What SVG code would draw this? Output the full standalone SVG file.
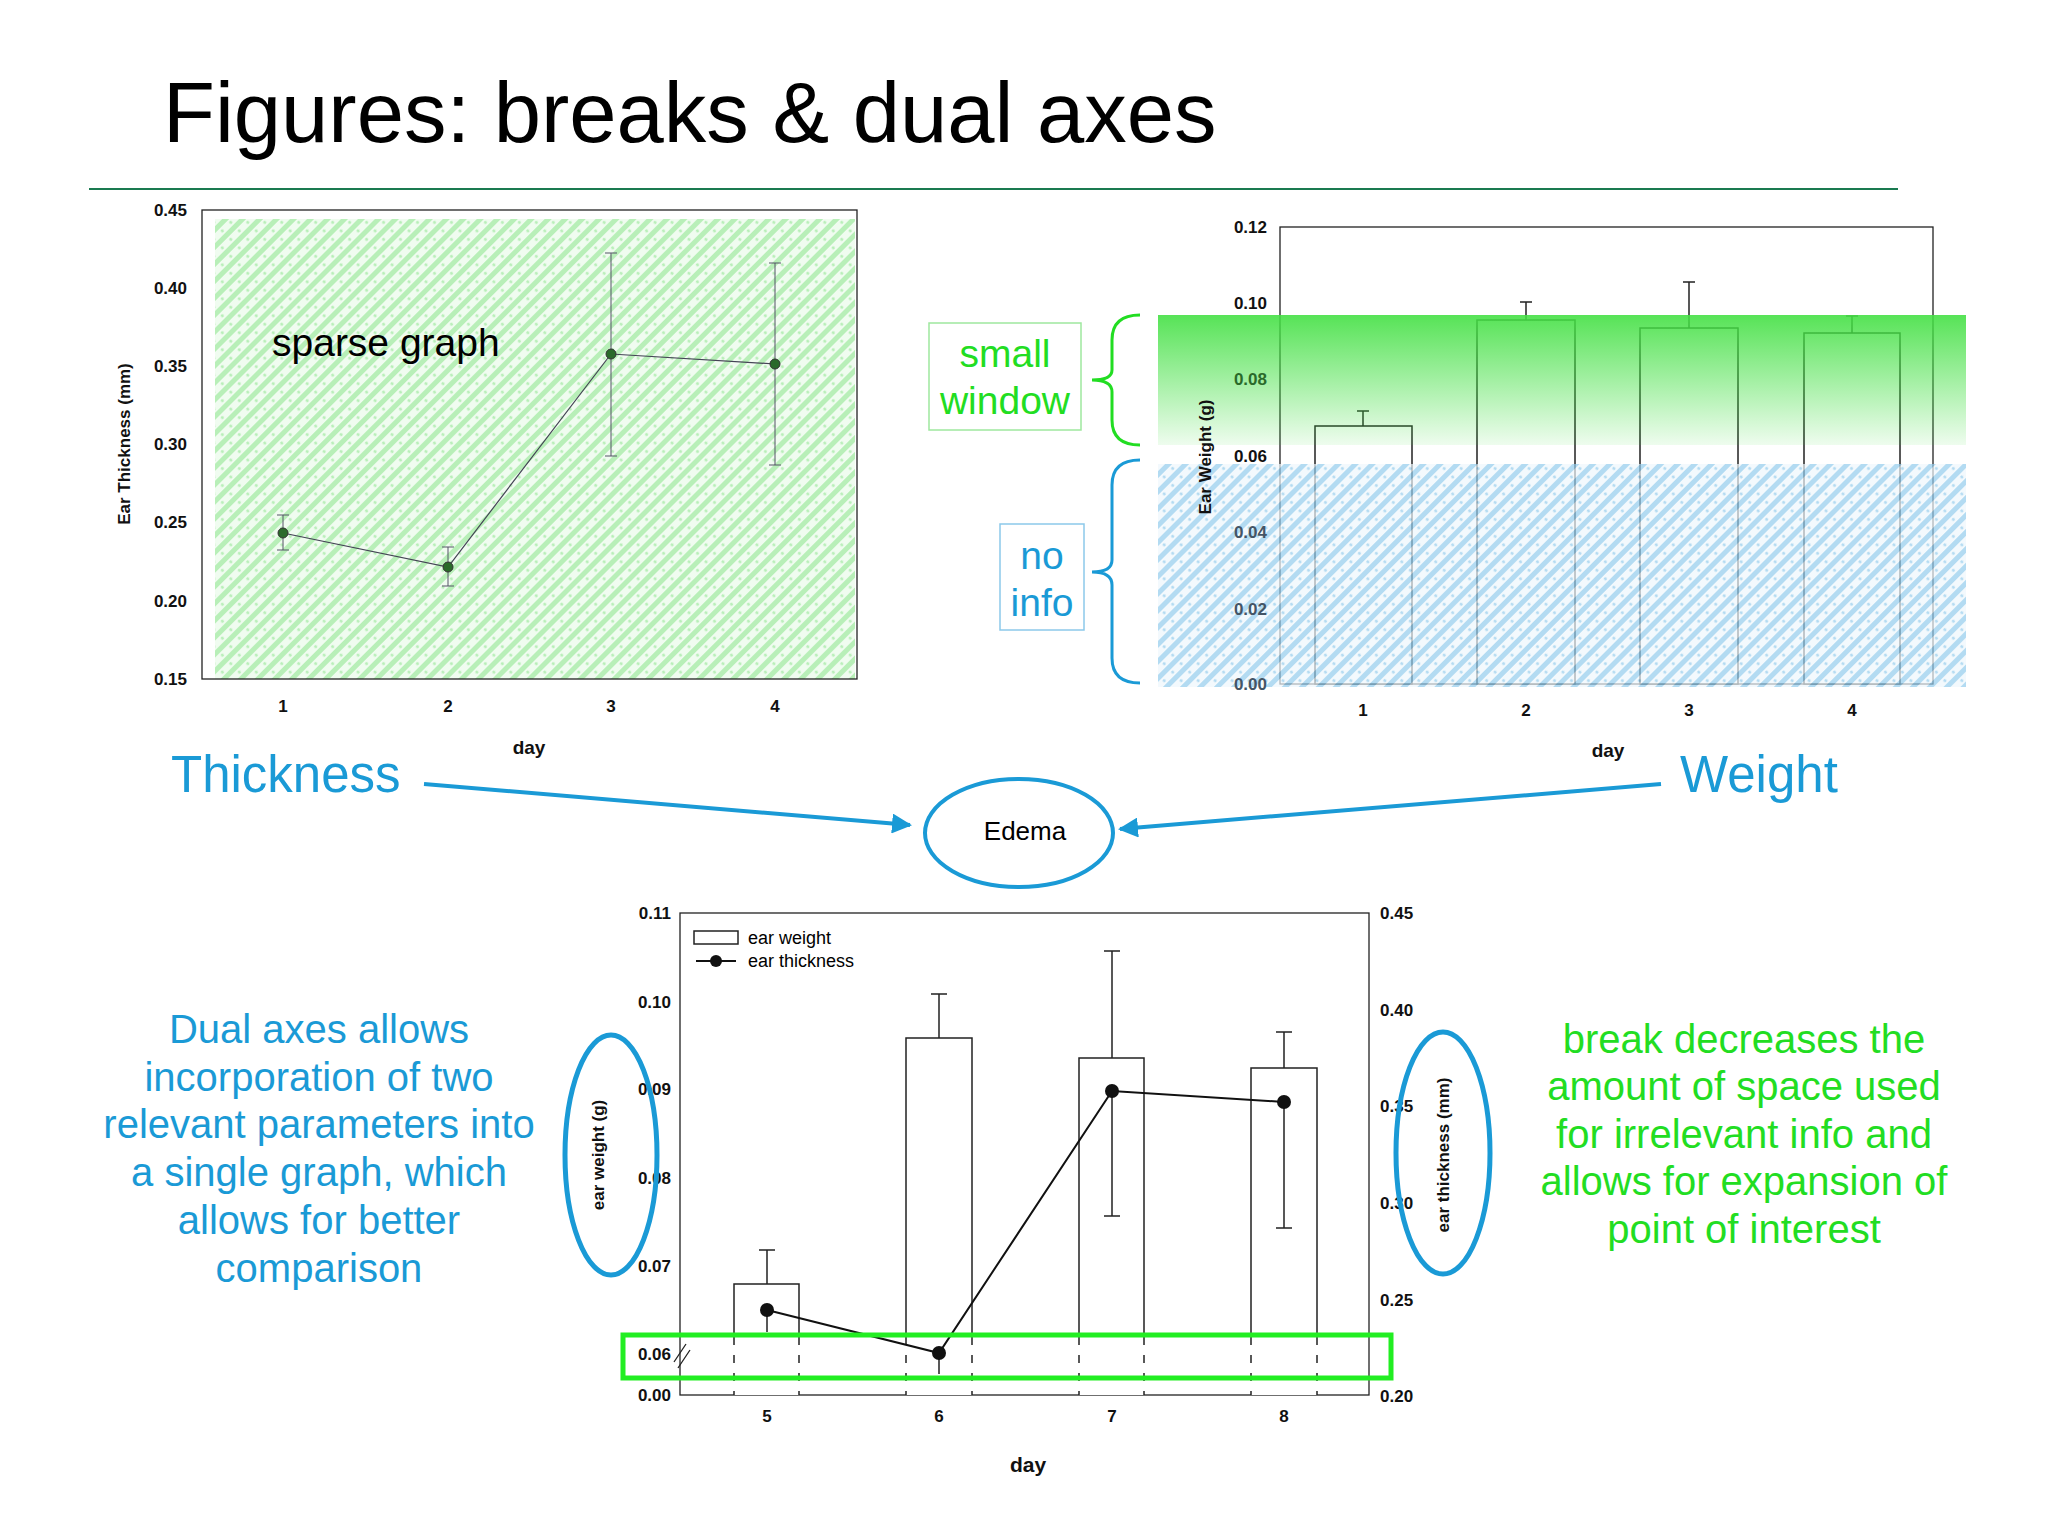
<svg xmlns="http://www.w3.org/2000/svg" width="2048" height="1536" viewBox="0 0 2048 1536">
<style>
text{font-family:"Liberation Sans",Arial,sans-serif}
.t{font-size:17px;font-weight:bold;fill:#111}
.ax{fill:none;stroke:#222;stroke-width:1.3}
.bar{fill:#fff;stroke:#222;stroke-width:1.5}
.blue{fill:#1a9ad6}
.grn{fill:#22dd22}
.eb{stroke:#222;stroke-width:1.5;fill:none}
</style>
<defs>
<pattern id="hg" width="12" height="12" patternUnits="userSpaceOnUse" patternTransform="rotate(45)">
<rect width="12" height="12" fill="#f0fcf0"/><rect width="5" height="12" fill="#b8efb8"/><circle cx="8.5" cy="6" r="1.6" fill="#b8efb8"/></pattern>
<pattern id="hb" width="12" height="12" patternUnits="userSpaceOnUse" patternTransform="rotate(45)">
<rect width="12" height="12" fill="#eef7fc"/><rect width="5" height="12" fill="#92cbec"/><circle cx="8.5" cy="6" r="1.6" fill="#92cbec"/></pattern>
<linearGradient id="gg" x1="0" y1="0" x2="0" y2="1"><stop offset="0" stop-color="#44e044"/><stop offset="1" stop-color="#44e044" stop-opacity="0.1"/></linearGradient>
<marker id="ar" viewBox="0 0 10 10" refX="9" refY="5" markerWidth="5" markerHeight="5" orient="auto"><path d="M0,0L10,5L0,10z" fill="#1a9ad6"/></marker>
</defs>
<rect width="2048" height="1536" fill="#fff"/>
<text x="163" y="142" font-size="85" fill="#000">Figures: breaks &amp; dual axes</text>
<line x1="89" y1="189" x2="1898" y2="189" stroke="#1a7a50" stroke-width="2"/>

<g id="chart1">
<rect x="215" y="219" width="640" height="460" fill="url(#hg)"/>
<rect x="202" y="210" width="655" height="469" class="ax"/>
<g class="t" text-anchor="end">
<text x="187" y="216">0.45</text><text x="187" y="294">0.40</text><text x="187" y="372">0.35</text><text x="187" y="450">0.30</text><text x="187" y="528">0.25</text><text x="187" y="607">0.20</text><text x="187" y="685">0.15</text></g>
<g class="t" text-anchor="middle"><text x="283" y="712">1</text><text x="448" y="712">2</text><text x="611" y="712">3</text><text x="775" y="712">4</text><text x="529" y="754" font-size="19">day</text></g>
<text class="t" font-size="20" transform="translate(130,444) rotate(-90)" text-anchor="middle">Ear Thickness (mm)</text>
<g stroke="#556" stroke-width="1"><path d="M283,515V550M277,515H289M277,550H289M448,547V586M442,547H454M442,586H454M611,253V456M605,253H617M605,456H617M775,263V465M769,263H781M769,465H781"/></g>
<polyline points="283,533 448,567 611,354 775,364" fill="none" stroke="#445" stroke-width="1.2"/>
<g fill="#2a6a2a" stroke="#333"><circle cx="283" cy="533" r="5"/><circle cx="448" cy="567" r="5"/><circle cx="611" cy="354" r="5"/><circle cx="775" cy="364" r="5"/></g>
<text x="272" y="356" font-size="39" fill="#000">sparse graph</text>
</g>

<g id="chart2">
<rect x="1280" y="227" width="653" height="457" class="ax"/>
<rect x="1315" y="426" width="97" height="258" class="bar"/><rect x="1477" y="320" width="98" height="364" class="bar"/><rect x="1640" y="328" width="98" height="356" class="bar"/><rect x="1804" y="333" width="96" height="351" class="bar"/>
<path class="eb" d="M1363,426V411M1357,411H1369M1526,320V302M1520,302H1532M1689,328V282M1683,282H1695M1852,333V316M1846,316H1858"/>
<rect x="1158" y="315" width="808" height="130" fill="url(#gg)" opacity="0.9"/>
<rect x="1158" y="464" width="808" height="223" fill="url(#hb)" opacity="0.7"/>
<g class="t" text-anchor="end"><text x="1267" y="233">0.12</text><text x="1267" y="309">0.10</text><text x="1267" y="385" fill="#2a6a2a">0.08</text><text x="1267" y="462">0.06</text><text x="1267" y="538" fill="#456">0.04</text><text x="1267" y="615" fill="#456">0.02</text><text x="1267" y="690" fill="#456">0.00</text></g>
<g class="t" text-anchor="middle"><text x="1363" y="716">1</text><text x="1526" y="716">2</text><text x="1689" y="716">3</text><text x="1852" y="716">4</text><text x="1608" y="757" font-size="19">day</text></g>
<text class="t" font-size="20" fill="#345" transform="translate(1211,457) rotate(-90)" text-anchor="middle">Ear Weight (g)</text>
</g>

<g id="smallwindow"><rect x="929" y="323" width="152" height="107" fill="#fff" stroke="#9ee89e" stroke-width="1.5"/><text x="1005" y="367" font-size="39" text-anchor="middle" class="grn">small</text><text x="1005" y="414" font-size="39" text-anchor="middle" class="grn">window</text>
<path d="M1140,315Q1112,315 1112,340V370Q1112,380 1092,380Q1112,380 1112,392V420Q1112,445 1140,445" fill="none" stroke="#22dd22" stroke-width="3"/></g>
<g id="noinfo"><rect x="1000" y="524" width="84" height="106" fill="#fff" stroke="#8cc9ea" stroke-width="1.5"/><text x="1042" y="569" font-size="39" text-anchor="middle" class="blue">no</text><text x="1042" y="616" font-size="39" text-anchor="middle" class="blue">info</text>
<path d="M1140,460Q1112,460 1112,485V560Q1112,572 1092,572Q1112,572 1112,585V658Q1112,683 1140,683" fill="none" stroke="#1a9ad6" stroke-width="3"/></g>

<g id="connectors" stroke="#1a9ad6" stroke-width="4" fill="none">
<line x1="424" y1="784" x2="910" y2="825" marker-end="url(#ar)"/>
<line x1="1661" y1="784" x2="1120" y2="829" marker-end="url(#ar)"/>
</g>
<text x="171" y="792" font-size="51" class="blue">Thickness</text>
<text x="1680" y="792" font-size="51" class="blue">Weight</text>
<g id="edema"><ellipse cx="1019" cy="833" rx="94" ry="54" fill="#fff" stroke="#1a9ad6" stroke-width="4"/><text x="1025" y="840" font-size="26" text-anchor="middle">Edema</text></g>

<g id="chart3">
<rect x="680" y="913" width="689" height="482" class="ax" stroke-width="2"/>
<g class="t" text-anchor="end"><text x="671" y="919">0.11</text><text x="671" y="1008">0.10</text><text x="671" y="1095">0.09</text><text x="671" y="1184">0.08</text><text x="671" y="1272">0.07</text><text x="671" y="1360">0.06</text><text x="671" y="1401">0.00</text></g>
<g class="t"><text x="1380" y="919">0.45</text><text x="1380" y="1016">0.40</text><text x="1380" y="1112">0.35</text><text x="1380" y="1209">0.30</text><text x="1380" y="1306">0.25</text><text x="1380" y="1402">0.20</text></g>
<g class="t" text-anchor="middle"><text x="767" y="1422">5</text><text x="939" y="1422">6</text><text x="1112" y="1422">7</text><text x="1284" y="1422">8</text><text x="1028" y="1472" font-size="21">day</text></g>
<text class="t" transform="translate(604,1155) rotate(-90)" text-anchor="middle" font-size="22">ear weight (g)</text>
<text class="t" transform="translate(1449,1155) rotate(-90)" text-anchor="middle" font-size="22">ear thickness (mm)</text>
<path d="M734,1395V1284H799V1395M906,1395V1038H972V1395M1079,1395V1058H1144V1395M1251,1395V1068H1317V1395" fill="#fff" stroke="#222" stroke-width="1.5"/>
<path d="M734,1345V1395M799,1345V1395M906,1345V1395M972,1345V1395M1079,1345V1395M1144,1345V1395M1251,1345V1395M1317,1345V1395" stroke="#fff" stroke-width="3" stroke-dasharray="10 8"/>
<path d="M674,1362L686,1344M678,1368L690,1350" stroke="#222" stroke-width="1.3"/>
<path class="eb" stroke-width="2" d="M767,1284V1250M759,1250H775M767,1310V1332M939,1038V994M931,994H947M939,1353V1374M1112,1058V951M1104,951H1120M1112,1091V1216M1104,1216H1120M1284,1068V1032M1276,1032H1292M1284,1102V1228M1276,1228H1292"/>
<polyline points="767,1310 939,1353 1112,1091 1284,1102" fill="none" stroke="#111" stroke-width="2"/>
<g fill="#111"><circle cx="767" cy="1310" r="7"/><circle cx="939" cy="1353" r="7"/><circle cx="1112" cy="1091" r="7"/><circle cx="1284" cy="1102" r="7"/></g>
<rect x="694" y="931" width="44" height="13" fill="#fff" stroke="#222" stroke-width="1.5"/>
<text x="748" y="944" font-size="18">ear weight</text>
<line x1="696" y1="961" x2="736" y2="961" stroke="#111" stroke-width="2"/><circle cx="716" cy="961" r="6" fill="#111"/>
<text x="748" y="967" font-size="18">ear thickness</text>
</g>
<ellipse cx="611" cy="1155" rx="46" ry="120" fill="none" stroke="#1a9ad6" stroke-width="5"/>
<ellipse cx="1443" cy="1153" rx="47" ry="121" fill="none" stroke="#1a9ad6" stroke-width="5"/>
<rect x="623" y="1335" width="768" height="43" fill="none" stroke="#22ee22" stroke-width="5"/>

<g font-size="40" text-anchor="middle" class="blue">
<text x="319" y="1043">Dual axes allows</text><text x="319" y="1091">incorporation of two</text><text x="319" y="1138">relevant parameters into</text><text x="319" y="1186">a single graph, which</text><text x="319" y="1234">allows for better</text><text x="319" y="1282">comparison</text></g>
<g font-size="40" text-anchor="middle" class="grn">
<text x="1744" y="1053">break decreases the</text><text x="1744" y="1100">amount of space used</text><text x="1744" y="1148">for irrelevant info and</text><text x="1744" y="1195">allows for expansion of</text><text x="1744" y="1243">point of interest</text></g>
</svg>
